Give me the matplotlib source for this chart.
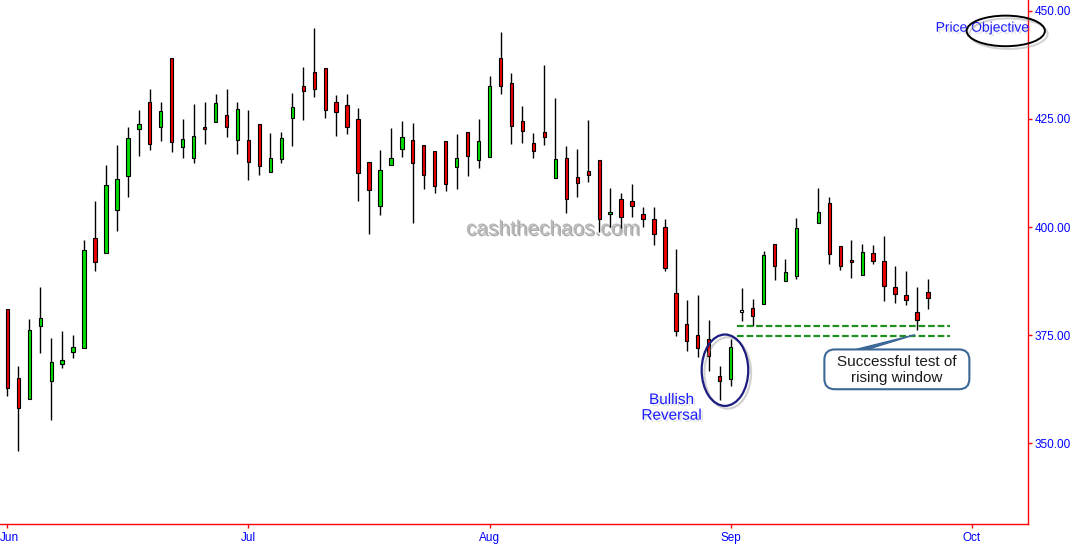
import matplotlib
matplotlib.use("Agg")
import matplotlib.pyplot as plt
import matplotlib.patheffects as pe
from matplotlib.patches import Ellipse, FancyBboxPatch, Polygon
from matplotlib.transforms import ScaledTranslation
import numpy as np

plt.rcParams['font.family'] = ['Liberation Sans', 'DejaVu Sans']

# trading-day index (Jun = 0), one day (73) is missing in the chart
days = list(range(0, 73)) + list(range(74, 85))

opens = [381.0, 365.0, 360.2, 377.1, 364.5, 368.3, 371.0, 372.0, 397.4, 393.9,
         403.9, 411.9, 422.6, 428.8, 423.1, 439.0, 418.4, 415.9, 423.1, 424.2,
         425.8, 420.1, 420.1, 423.8, 412.8, 415.8, 425.3, 432.6, 435.85, 436.7,
         428.9, 428.2, 425.0, 415.0, 404.9, 414.3, 418.0, 420.1, 419.0, 417.6,
         419.9, 414.0, 422.0, 415.6, 416.1, 439.0, 433.2, 424.5, 419.4, 421.9,
         411.3, 416.0, 411.6, 413.0, 415.4, 403.0, 406.4, 406.0, 403.1, 401.9,
         399.9, 384.7, 377.5, 375.0, 374.05, 365.6, 364.9, 380.3, 381.3, 382.2,
         396.0, 387.6, 388.75,
         400.9, 405.5, 395.55, 392.4, 389.0, 394.0, 392.2, 386.1, 384.3, 380.3, 385.0]
highs = [381.0, 367.9, 378.7, 386.1, 374.3, 376.0, 375.0, 396.9, 406.0, 414.3,
         418.9, 423.1, 427.1, 431.85, 428.9, 439.0, 425.0, 428.5, 428.9, 430.8,
         431.85, 428.8, 427.1, 423.8, 421.75, 422.0, 431.0, 437.0, 446.0, 436.7,
         430.5, 430.7, 427.5, 415.0, 417.8, 422.9, 424.5, 424.1, 419.0, 417.6,
         419.9, 421.5, 422.0, 425.0, 434.9, 445.1, 435.55, 428.0, 421.7, 437.5,
         429.8, 418.7, 418.05, 424.75, 415.4, 409.0, 407.8, 409.95, 404.7, 404.7,
         401.8, 394.9, 383.1, 384.3, 378.4, 367.9, 374.2, 385.9, 383.4, 394.5,
         396.0, 392.5, 402.0,
         409.0, 407.0, 395.55, 397.0, 396.1, 395.85, 397.9, 391.0, 389.8, 386.1, 388.0]
lows = [361.0, 348.3, 360.2, 370.95, 355.4, 367.5, 369.8, 372.0, 389.9, 393.9,
        399.2, 407.0, 416.5, 417.9, 420.0, 417.4, 416.0, 414.9, 419.1, 424.2,
        420.9, 417.0, 410.95, 412.0, 412.8, 414.9, 418.8, 424.8, 430.1, 425.2,
        421.1, 421.6, 406.1, 398.5, 402.9, 414.3, 416.3, 401.0, 408.9, 407.9,
        408.4, 408.9, 411.9, 413.7, 416.1, 430.8, 419.3, 419.5, 416.0, 419.0,
        411.3, 403.3, 407.0, 410.4, 398.9, 400.0, 399.85, 402.3, 400.1, 395.9,
        389.9, 374.9, 371.4, 370.0, 366.7, 360.0, 363.3, 378.3, 377.2, 382.2,
        387.8, 387.6, 387.9,
        400.9, 391.4, 390.0, 388.3, 389.0, 391.5, 383.0, 382.5, 382.05, 376.3, 381.1]
closes = [362.9, 358.1, 376.1, 379.0, 368.7, 369.3, 372.3, 394.6, 392.0, 409.7,
          411.0, 420.5, 423.8, 419.1, 426.8, 419.7, 420.3, 421.0, 422.7, 428.6,
          423.2, 427.2, 415.1, 414.2, 415.9, 420.5, 427.7, 431.5, 432.0, 427.1,
          426.7, 423.2, 412.6, 408.6, 413.2, 415.9, 420.8, 414.7, 412.1, 409.6,
          410.0, 415.9, 416.5, 419.9, 432.5, 432.5, 423.4, 422.1, 417.5, 420.75,
          415.7, 406.6, 410.3, 412.1, 401.8, 403.3, 402.3, 404.9, 401.9, 398.3,
          390.5, 376.0, 373.7, 372.1, 370.3, 364.5, 372.2, 380.3, 379.4, 393.5,
          391.1, 389.6, 399.7,
          403.4, 393.7, 391.1, 391.85, 394.2, 392.2, 386.4, 384.6, 383.2, 378.6, 383.7]

month_pos = [0, 22, 44, 66, 88]
month_labels = ['Jun', 'Jul', 'Aug', 'Sep', 'Oct']
price_ticks = [350, 375, 400, 425, 450]

# rising window support lines
window_lines = [377.2, 374.7]

fig = plt.figure(figsize=(10.75, 5.45), dpi=100)
ax = fig.add_axes([0, 21 / 545, 1028 / 1075, 524 / 545])

o = np.array(opens)
c = np.array(closes)
colors = np.where(c > o, '#00dd00', np.where(c < o, '#ee0000', 'white'))
bottoms = np.minimum(o, c)
heights = np.maximum(np.abs(c - o), 0.45)

ax.vlines(days, lows, highs, color='black', linewidth=1.0, zorder=2)
ax.bar(days, heights, bottom=bottoms, width=0.3, color=colors,
       edgecolor='black', linewidth=0.8, zorder=3)

ax.set_xlim(-0.67, 93.13)
ax.set_ylim(331.34, 452.5)

# axes styling
for s in ['left', 'top']:
    ax.spines[s].set_visible(False)
for s in ['right', 'bottom']:
    ax.spines[s].set_color('red')
    ax.spines[s].set_linewidth(1.0)
ax.yaxis.tick_right()
ax.set_yticks(price_ticks)
ax.set_yticklabels([f'{v:.2f}' for v in price_ticks])
ax.set_xticks(month_pos)
ax.set_xticklabels(month_labels)
ax.tick_params(axis='both', colors='red', labelcolor='blue', length=3,
               width=1, labelsize=8.5, direction='out')
ax.tick_params(axis='y', pad=2)
ax.tick_params(axis='x', pad=3)

# first month label sits against the left edge
first = ax.get_xticklabels()[0]
first.set_horizontalalignment('left')
first.set_transform(first.get_transform() + ScaledTranslation(-0.07, 0, fig.dpi_scale_trans))

txt_shadow = [pe.SimplePatchShadow(offset=(1.5, -1.5), shadow_rgbFace='#aaaaaa', alpha=0.35), pe.Normal()]
line_shadow = [pe.SimpleLineShadow(offset=(2, -2), shadow_color='#999999', alpha=0.45), pe.Normal()]

# watermark
ax.text(49.8, 399.5, 'cashthechaos.com', fontsize=15, color='#b8b8b8',
        ha='center', va='center', zorder=1,
        path_effects=[pe.SimplePatchShadow(offset=(1, -1), shadow_rgbFace='#707070', alpha=0.6), pe.Normal()])

# rising window dashed lines
ax.hlines(window_lines, 66.55, 86.0, colors='#1f8f1f', linewidth=1.6,
          linestyles=(0, (3.0, 1.3)), zorder=4)

# bullish reversal
ax.add_patch(Ellipse((65.48, 366.9), 4.25, 16.5, fill=False, edgecolor='#1c1c80',
                     linewidth=1.6, zorder=5, path_effects=line_shadow))
ax.text(60.6, 358.2, 'Bullish\nReversal', fontsize=11, color='#1a1aff',
        ha='center', va='center', linespacing=1.15, zorder=5, path_effects=txt_shadow)

# price objective
ax.text(88.98, 446.1, 'Price Objective', fontsize=10, color='#1a1aff',
        ha='center', va='center', zorder=5, path_effects=txt_shadow)
ax.add_patch(Ellipse((91.1, 445.35), 7.14, 7.07, fill=False, edgecolor='black',
                     linewidth=1.4, zorder=6, clip_on=False, path_effects=line_shadow))

# callout box
ax.add_patch(FancyBboxPatch((74.55, 362.5), 13.23, 9.2,
                            boxstyle='round,pad=0,rounding_size=0.95',
                            mutation_aspect=2.534, facecolor='white',
                            edgecolor='#3b6896', linewidth=1.5, zorder=5))
ax.add_patch(Polygon([(77.5, 371.75), (82.82, 375.1), (78.5, 371.75)],
                     closed=True, facecolor='#3b6896', edgecolor='#3b6896',
                     linewidth=1.0, zorder=6))
ax.text(81.15, 367.0, 'Successful test of\nrising window', fontsize=11,
        color='#1a1a1a', ha='center', va='center', linespacing=1.2, zorder=6)

fig.savefig('out.png', dpi=100)
